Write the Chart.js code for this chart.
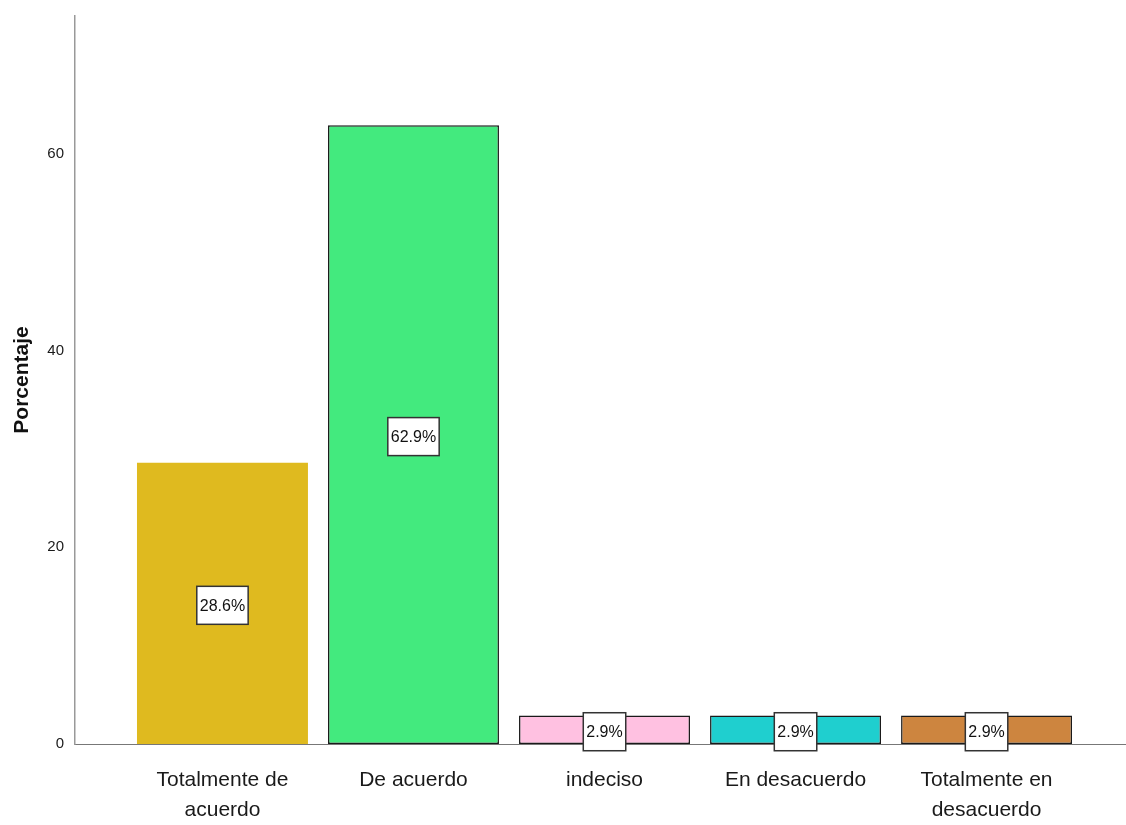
<!DOCTYPE html>
<html>
<head>
<meta charset="utf-8">
<script src="https://cdn.jsdelivr.net/npm/chart.js@4.4.0/dist/chart.umd.min.js"></script>
<style>
  html, body { margin: 0; padding: 0; background: #fff; }
  #wrap { width: 1126px; height: 825px; }
</style>
</head>
<body>
<div id="wrap"><canvas id="barChart"></canvas></div>
<script>
// categories and values
const categories = [
  ["Totalmente de", "acuerdo"],
  ["De acuerdo"],
  ["indeciso"],
  ["En desacuerdo"],
  ["Totalmente en", "desacuerdo"]
];
const percentages = [28.6, 62.9, 2.9, 2.9, 2.9];
const yTicks = [0, 20, 40, 60];

const barColors = ["#DFBA1F", "#43EA7E", "#FFC1E1", "#1FCFCF", "#CD853F"];
const borderWidths = [0, 1.5, 1.5, 1.5, 1.5];

const narrow = "'Liberation Sans Narrow', 'Arial Narrow', 'Liberation Sans', Arial, sans-serif";

// white boxes with the percentage in the middle of each bar
const valueBoxes = {
  id: "valueBoxes",
  afterDatasetsDraw(chart) {
    const ctx = chart.ctx;
    const meta = chart.getDatasetMeta(0);
    ctx.save();
    ctx.font = "16px " + narrow;
    ctx.textAlign = "center";
    ctx.textBaseline = "middle";
    meta.data.forEach((bar, i) => {
      const txt = percentages[i].toFixed(1) + "%";
      const w = ctx.measureText(txt).width + 6;
      const h = 38;
      const cx = bar.x;
      const cy = (bar.y + bar.base) / 2 + 2;
      ctx.fillStyle = "#ffffff";
      ctx.fillRect(cx - w / 2, cy - h / 2, w, h);
      ctx.strokeStyle = "#333333";
      ctx.lineWidth = 1.5;
      ctx.strokeRect(cx - w / 2, cy - h / 2, w, h);
      ctx.fillStyle = "#111111";
      ctx.fillText(txt, cx, cy + 1);
    });
    ctx.restore();
  }
};

const ctx = document.getElementById("barChart");
new Chart(ctx, {
  type: "bar",
  data: {
    datasets: [{
      label: "Porcentaje",
      data: percentages.map((v, i) => ({ x: i, y: v })),
      backgroundColor: barColors,
      borderColor: "#1a1a1a",
      borderWidth: borderWidths,
      borderSkipped: false,
      categoryPercentage: 1,
      barPercentage: 0.895
    }]
  },
  options: {
    responsive: true,
    maintainAspectRatio: false,
    animation: false,
    layout: { padding: { top: 16, right: 0, left: 0, bottom: 0 } },
    plugins: {
      legend: { display: false },
      tooltip: { enabled: false }
    },
    scales: {
      x: {
        type: "linear",
        offset: false,
        min: -0.772,
        max: 4.73,
        grid: { display: false, offset: false },
        border: { color: "#777777", width: 1 },
        afterFit(scale) { scale.height = 81; },
        afterBuildTicks(scale) {
          scale.ticks = categories.map((c, i) => ({ value: i }));
        },
        ticks: {
          padding: 13,
          maxRotation: 0,
          autoSkip: false,
          color: "#1a1a1a",
          font: { family: narrow, size: 21, lineHeight: 1.45 },
          callback: (v) => categories[v] || ""
        }
      },
      y: {
        min: 0,
        max: 74,
        grid: { display: false },
        border: { color: "#999999", width: 1.5 },
        afterFit(scale) { scale.width = 75; },
        afterBuildTicks(scale) {
          scale.ticks = yTicks.map((v) => ({ value: v }));
        },
        ticks: {
          padding: 3,
          color: "#1a1a1a",
          font: { family: narrow, size: 15 }
        },
        title: {
          display: true,
          text: "Porcentaje",
          color: "#111111",
          padding: { top: 10, bottom: 10 },
          font: { family: "'Liberation Sans', Arial, sans-serif", size: 21, weight: "bold" }
        }
      }
    }
  },
  plugins: [valueBoxes]
});
</script>
</body>
</html>
